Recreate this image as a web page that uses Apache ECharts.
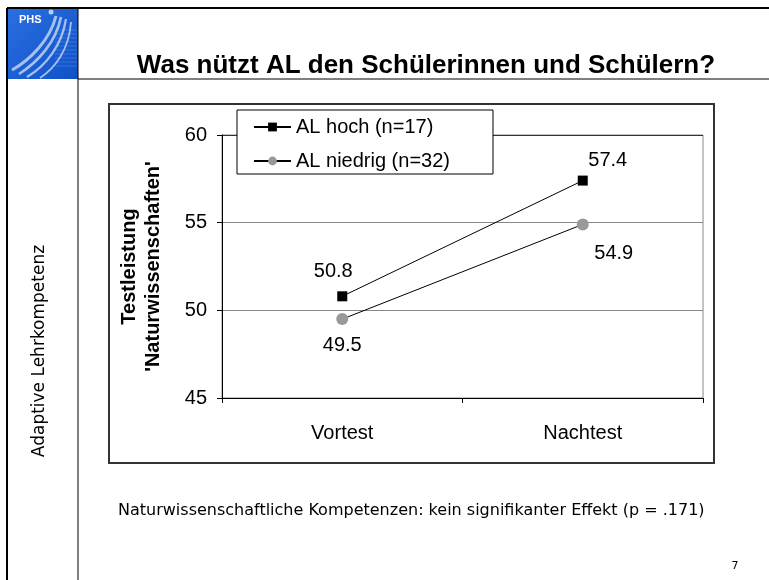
<!DOCTYPE html>
<html><head><meta charset="utf-8">
<script src="https://cdn.jsdelivr.net/npm/echarts@6/dist/echarts.min.js"></script>
<style>html,body{margin:0;padding:0;background:#fff}#c{width:769px;height:580px}</style>
</head><body><div id="c"></div>
<script>
const categories = ['Vortest', 'Nachtest'];
const hochValues = [50.8, 57.4];
const niedrigValues = [49.5, 54.9];
const seriesNames = ['AL hoch (n=17)', 'AL niedrig (n=32)'];
const yMin = 45, yMax = 60, yStep = 5;
const titleText = 'Was nützt AL den Schülerinnen und Schülern?';
const sideText = 'Adaptive Lehrkompetenz';
const footerText = 'Naturwissenschaftliche Kompetenzen: kein signifikanter Effekt (p = .171)';
const pageNumber = '7';
const yAxisName = "Testleistung\n'Naturwissenschaften'";

const hochLabelPos = [{position: 'top', offset: [-9, -5]}, {position: 'top', offset: [25, 0]}];
const niedrigLabelPos = [{position: 'bottom', offset: [0, 5]}, {position: 'bottom', offset: [31, 8]}];

const AR = "'Liberation Sans', Arial, sans-serif";
const VD = "'DejaVu Sans', Verdana, sans-serif";

function buildData(vals, pos) {
  return vals.map((v, i) => ({value: v, label: pos[i]}));
}

const chart = echarts.init(document.getElementById('c'), null, {renderer: 'canvas'});

const curves = [];
const curveDefs = [
  [[56,16],[50,40],[30,60],[12,70]],
  [[61,17],[56,42],[38,62],[19,74]],
  [[66,19],[62,45],[46,66],[27,77]],
  [[71,22],[69,50],[55,68],[40,78]]
];
curveDefs.forEach((d, i) => {
  curves.push({type: 'bezierCurve', shape: {x1: d[0][0], y1: d[0][1], cpx1: d[1][0], cpy1: d[1][1], cpx2: d[2][0], cpy2: d[2][1], x2: d[3][0], y2: d[3][1]},
    style: {stroke: 'rgba(190,210,245,0.85)', lineWidth: 3 - i * 0.4, fill: null}});
});
const stripes = [];
for (let k = 0; k < 10; k++) {
  stripes.push({type: 'line', shape: {x1: 55, y1: 30 + k * 4, x2: 77, y2: 30 + k * 4}, style: {stroke: 'rgba(120,160,230,0.35)', lineWidth: 1}});
}

chart.setOption({
  animation: false,
  backgroundColor: '#fff',
  title: {
    text: titleText, left: 421, top: 48, textAlign: 'center',
    textStyle: {fontFamily: AR, fontWeight: 'bold', fontSize: 26, color: '#000'}
  },
  legend: {
    left: 237, top: 110, orient: 'vertical',
    backgroundColor: '#fff', borderColor: '#000', borderWidth: 1, borderRadius: 0,
    padding: [7, 43, 3, 16], itemGap: 14, itemWidth: 37, itemHeight: 11,
    textStyle: {fontFamily: AR, fontSize: 20, color: '#000'},
    data: seriesNames
  },
  grid: {left: 222, right: 66, top: 135, bottom: 182, show: true, borderColor: '#888', borderWidth: 1},
  xAxis: {
    type: 'category', data: categories, boundaryGap: true,
    axisLine: {lineStyle: {color: '#000', width: 1}},
    axisTick: {show: true, length: 5, alignWithLabel: false, lineStyle: {color: '#000'}},
    axisLabel: {margin: 25, fontFamily: AR, fontSize: 20, color: '#000'},
    splitLine: {show: false}
  },
  yAxis: {
    type: 'value', min: yMin, max: yMax, interval: yStep,
    name: yAxisName, nameLocation: 'middle', nameGap: 57,
    nameTextStyle: {fontFamily: AR, fontWeight: 'bold', fontSize: 20, color: '#000', lineHeight: 24},
    axisLine: {show: true, lineStyle: {color: '#000', width: 1}},
    axisTick: {show: true, length: 5, lineStyle: {color: '#000'}},
    axisLabel: {margin: 15, fontFamily: AR, fontSize: 20, color: '#000'},
    splitLine: {show: true, lineStyle: {color: ['#888', '#888', '#888', '#333'], width: 1}}
  },
  series: [
    {
      name: seriesNames[0], type: 'line', data: buildData(hochValues, hochLabelPos),
      symbol: 'rect', symbolSize: 10,
      itemStyle: {color: '#000'},
      lineStyle: {color: '#000', width: 1},
      label: {show: true, fontFamily: AR, fontSize: 20, color: '#000'},
      z: 3
    },
    {
      name: seriesNames[1], type: 'line', data: buildData(niedrigValues, niedrigLabelPos),
      symbol: 'circle', symbolSize: 12,
      itemStyle: {color: '#999'},
      lineStyle: {color: '#000', width: 1},
      label: {show: true, fontFamily: AR, fontSize: 20, color: '#000'},
      z: 2
    }
  ],
  graphic: [
    {type: 'rect', z: -10, shape: {x: 8, y: 9, width: 70, height: 70},
      style: {fill: new echarts.graphic.LinearGradient(0, 0, 1, 1, [{offset: 0, color: '#2a6ee0'}, {offset: 1, color: '#0f52c8'}])}},
    {type: 'group', z: 1, children: stripes},
    {type: 'text', z: 1, x: 19, y: 14, style: {text: 'PHS', fill: '#fff', font: "bold 11px " + AR}},
    {type: 'circle', z: 1, shape: {cx: 51, cy: 12, r: 2.5}, style: {fill: 'rgba(200,220,250,0.9)'}},
    {type: 'group', z: 1, children: curves},
    {type: 'line', z: 5, shape: {x1: 7, y1: 8, x2: 769, y2: 8}, style: {stroke: '#000', lineWidth: 2}},
    {type: 'line', z: 5, shape: {x1: 7, y1: 8, x2: 7, y2: 580}, style: {stroke: '#000', lineWidth: 2}},
    {type: 'line', z: 5, shape: {x1: 78, y1: 8, x2: 78, y2: 580}, style: {stroke: '#000', lineWidth: 1}},
    {type: 'line', z: 5, shape: {x1: 78, y1: 79, x2: 769, y2: 79}, style: {stroke: '#000', lineWidth: 1}},
    {type: 'rect', z: -5, shape: {x: 109, y: 104, width: 605, height: 359}, style: {fill: 'none', stroke: '#333', lineWidth: 2}},
    {type: 'text', x: 40, y: 351, rotation: Math.PI / 2,
      style: {text: sideText, fill: '#000', font: "17px " + VD, align: 'center', verticalAlign: 'middle'}},
    {type: 'text', x: 118, y: 511,
      style: {text: footerText, fill: '#000', font: "16px " + VD, align: 'left', verticalAlign: 'middle'}},
    {type: 'text', x: 735, y: 566,
      style: {text: pageNumber, fill: '#000', font: "11px " + VD, align: 'center', verticalAlign: 'middle'}}
  ]
});
</script></body></html>
